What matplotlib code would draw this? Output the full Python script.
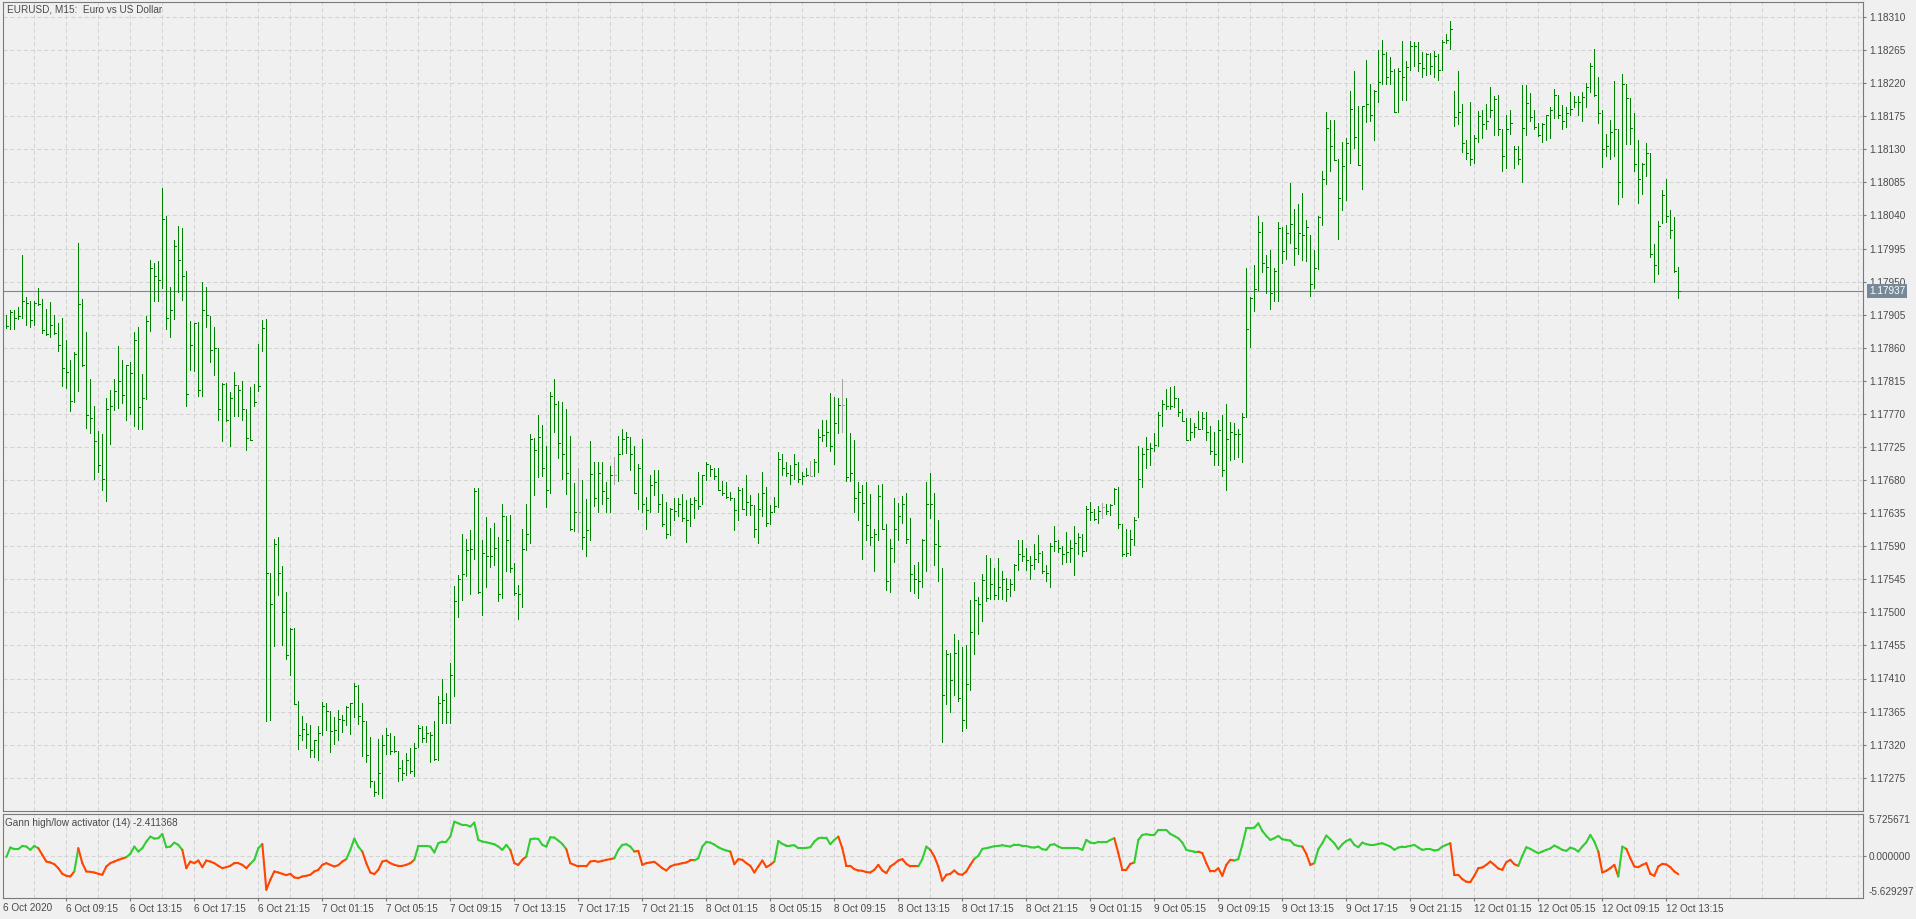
import numpy as np
import pandas as pd
import matplotlib
matplotlib.use("Agg")
import matplotlib.pyplot as plt
from matplotlib.collections import LineCollection


# =========================
# DATA  (EURUSD M15, bars)
# =========================
TITLE = "EURUSD, M15:  Euro vs US Dollar"
FIRST_BAR = "2020-10-06 05:30"
LAST_BAR = "2020-10-12 14:00"

HIGH = [
    1.17904, 1.17911, 1.17911, 1.17916, 1.17986, 1.17929, 1.17924, 1.17924, 1.17941, 1.17926, 1.17913, 1.17922, 1.17904, 1.17893, 1.17900, 1.17871, 1.17843, 1.17854, 1.18002, 1.17927,
    1.17882, 1.17817, 1.17781, 1.17747, 1.17743, 1.17792, 1.17803, 1.17817, 1.17862, 1.17843, 1.17837, 1.17841, 1.17882, 1.17888, 1.17824, 1.17903, 1.17980, 1.17975, 1.17978, 1.18077,
    1.18039, 1.17943, 1.18006, 1.18026, 1.18023, 1.17964, 1.17896, 1.17894, 1.17895, 1.17950, 1.17942, 1.17903, 1.17888, 1.17860, 1.17812, 1.17812, 1.17800, 1.17827, 1.17810, 1.17815,
    1.17777, 1.17807, 1.17811, 1.17865, 1.17898, 1.17899, 1.17553, 1.17600, 1.17602, 1.17563, 1.17528, 1.17479, 1.17479, 1.17380, 1.17359, 1.17349, 1.17347, 1.17327, 1.17346, 1.17378,
    1.17377, 1.17366, 1.17358, 1.17367, 1.17361, 1.17372, 1.17376, 1.17404, 1.17401, 1.17376, 1.17352, 1.17330, 1.17270, 1.17328, 1.17333, 1.17342, 1.17336, 1.17332, 1.17311, 1.17299,
    1.17308, 1.17316, 1.17322, 1.17347, 1.17346, 1.17346, 1.17337, 1.17352, 1.17386, 1.17410, 1.17390, 1.17431, 1.17536, 1.17551, 1.17606, 1.17600, 1.17612, 1.17669, 1.17669, 1.17599,
    1.17630, 1.17615, 1.17621, 1.17602, 1.17648, 1.17631, 1.17633, 1.17567, 1.17537, 1.17613, 1.17648, 1.17743, 1.17737, 1.17769, 1.17755, 1.17727, 1.17800, 1.17818, 1.17788, 1.17786,
    1.17777, 1.17740, 1.17676, 1.17696, 1.17680, 1.17654, 1.17733, 1.17704, 1.17705, 1.17705, 1.17677, 1.17699, 1.17711, 1.17740, 1.17750, 1.17746, 1.17739, 1.17726, 1.17702, 1.17736,
    1.17657, 1.17687, 1.17693, 1.17694, 1.17661, 1.17650, 1.17642, 1.17655, 1.17656, 1.17661, 1.17653, 1.17656, 1.17657, 1.17691, 1.17687, 1.17704, 1.17701, 1.17697, 1.17696, 1.17679,
    1.17677, 1.17664, 1.17656, 1.17670, 1.17669, 1.17687, 1.17659, 1.17646, 1.17662, 1.17691, 1.17671, 1.17646, 1.17657, 1.17718, 1.17716, 1.17705, 1.17700, 1.17715, 1.17705, 1.17691,
    1.17696, 1.17706, 1.17708, 1.17749, 1.17762, 1.17762, 1.17799, 1.17793, 1.17792, 1.17817, 1.17791, 1.17744, 1.17734, 1.17678, 1.17673, 1.17677, 1.17661, 1.17614, 1.17673, 1.17675,
    1.17620, 1.17600, 1.17655, 1.17649, 1.17658, 1.17663, 1.17629, 1.17565, 1.17569, 1.17600, 1.17677, 1.17689, 1.17663, 1.17625, 1.17561, 1.17449, 1.17445, 1.17471, 1.17462, 1.17453,
    1.17455, 1.17517, 1.17541, 1.17521, 1.17552, 1.17578, 1.17574, 1.17560, 1.17574, 1.17556, 1.17547, 1.17545, 1.17566, 1.17598, 1.17598, 1.17587, 1.17576, 1.17593, 1.17605, 1.17583,
    1.17565, 1.17594, 1.17618, 1.17599, 1.17590, 1.17610, 1.17598, 1.17618, 1.17608, 1.17607, 1.17645, 1.17650, 1.17640, 1.17645, 1.17649, 1.17647, 1.17647, 1.17669, 1.17671, 1.17620,
    1.17614, 1.17612, 1.17630, 1.17726, 1.17724, 1.17739, 1.17730, 1.17744, 1.17773, 1.17789, 1.17804, 1.17806, 1.17808, 1.17792, 1.17777, 1.17764, 1.17764, 1.17758, 1.17774, 1.17772,
    1.17773, 1.17754, 1.17745, 1.17762, 1.17768, 1.17783, 1.17759, 1.17757, 1.17750, 1.17771, 1.17968, 1.17929, 1.17972, 1.18039, 1.18031, 1.17986, 1.17993, 1.17969, 1.18031, 1.18024,
    1.18027, 1.18084, 1.18049, 1.18056, 1.18071, 1.18034, 1.18014, 1.17993, 1.18039, 1.18101, 1.18181, 1.18170, 1.18170, 1.18117, 1.18140, 1.18145, 1.18209, 1.18237, 1.18189, 1.18189,
    1.18251, 1.18219, 1.18211, 1.18265, 1.18279, 1.18262, 1.18256, 1.18239, 1.18241, 1.18277, 1.18250, 1.18278, 1.18276, 1.18276, 1.18263, 1.18261, 1.18261, 1.18264, 1.18260, 1.18279,
    1.18287, 1.18305, 1.18210, 1.18237, 1.18192, 1.18143, 1.18194, 1.18150, 1.18182, 1.18183, 1.18191, 1.18215, 1.18203, 1.18204, 1.18158, 1.18176, 1.18183, 1.18135, 1.18135, 1.18218,
    1.18218, 1.18207, 1.18183, 1.18166, 1.18166, 1.18177, 1.18188, 1.18212, 1.18204, 1.18190, 1.18188, 1.18208, 1.18203, 1.18203, 1.18208, 1.18220, 1.18248, 1.18266, 1.18228, 1.18184,
    1.18151, 1.18170, 1.18223, 1.18157, 1.18233, 1.18219, 1.18200, 1.18179, 1.18142, 1.18111, 1.18139, 1.18125, 1.18001, 1.18033, 1.18074, 1.18090, 1.18048, 1.18038, 1.17970,
]

LOW = [
    1.17887, 1.17885, 1.17885, 1.17899, 1.17901, 1.17891, 1.17888, 1.17891, 1.17918, 1.17880, 1.17878, 1.17874, 1.17879, 1.17856, 1.17808, 1.17805, 1.17774, 1.17786, 1.17801, 1.17835,
    1.17751, 1.17744, 1.17681, 1.17691, 1.17666, 1.17651, 1.17729, 1.17775, 1.17778, 1.17785, 1.17762, 1.17770, 1.17753, 1.17749, 1.17750, 1.17790, 1.17883, 1.17923, 1.17924, 1.17941,
    1.17885, 1.17874, 1.17899, 1.17936, 1.17925, 1.17781, 1.17830, 1.17828, 1.17795, 1.17795, 1.17888, 1.17840, 1.17823, 1.17762, 1.17733, 1.17760, 1.17727, 1.17767, 1.17767, 1.17762,
    1.17721, 1.17734, 1.17781, 1.17801, 1.17855, 1.17352, 1.17353, 1.17454, 1.17524, 1.17456, 1.17436, 1.17415, 1.17375, 1.17314, 1.17326, 1.17315, 1.17303, 1.17303, 1.17299, 1.17333,
    1.17340, 1.17310, 1.17321, 1.17326, 1.17337, 1.17347, 1.17335, 1.17358, 1.17348, 1.17305, 1.17297, 1.17262, 1.17250, 1.17253, 1.17247, 1.17307, 1.17307, 1.17310, 1.17271, 1.17272,
    1.17279, 1.17281, 1.17277, 1.17317, 1.17324, 1.17324, 1.17296, 1.17299, 1.17299, 1.17349, 1.17349, 1.17349, 1.17386, 1.17494, 1.17517, 1.17549, 1.17525, 1.17572, 1.17527, 1.17496,
    1.17535, 1.17562, 1.17564, 1.17516, 1.17519, 1.17556, 1.17555, 1.17524, 1.17491, 1.17507, 1.17585, 1.17594, 1.17659, 1.17684, 1.17686, 1.17644, 1.17662, 1.17745, 1.17710, 1.17681,
    1.17661, 1.17612, 1.17611, 1.17610, 1.17586, 1.17577, 1.17599, 1.17645, 1.17637, 1.17647, 1.17636, 1.17636, 1.17674, 1.17679, 1.17715, 1.17717, 1.17694, 1.17662, 1.17640, 1.17636,
    1.17613, 1.17637, 1.17660, 1.17637, 1.17618, 1.17601, 1.17605, 1.17626, 1.17631, 1.17624, 1.17596, 1.17617, 1.17628, 1.17640, 1.17647, 1.17680, 1.17685, 1.17681, 1.17666, 1.17660,
    1.17655, 1.17653, 1.17612, 1.17626, 1.17641, 1.17633, 1.17633, 1.17603, 1.17595, 1.17631, 1.17617, 1.17620, 1.17636, 1.17644, 1.17687, 1.17686, 1.17675, 1.17682, 1.17677, 1.17674,
    1.17686, 1.17685, 1.17685, 1.17691, 1.17733, 1.17727, 1.17720, 1.17702, 1.17744, 1.17746, 1.17679, 1.17679, 1.17636, 1.17625, 1.17572, 1.17599, 1.17591, 1.17556, 1.17599, 1.17614,
    1.17530, 1.17528, 1.17569, 1.17599, 1.17621, 1.17595, 1.17529, 1.17527, 1.17519, 1.17535, 1.17556, 1.17628, 1.17565, 1.17543, 1.17324, 1.17375, 1.17365, 1.17388, 1.17380, 1.17339,
    1.17342, 1.17395, 1.17443, 1.17470, 1.17488, 1.17516, 1.17518, 1.17518, 1.17518, 1.17518, 1.17516, 1.17522, 1.17531, 1.17557, 1.17570, 1.17557, 1.17546, 1.17559, 1.17568, 1.17554,
    1.17543, 1.17535, 1.17584, 1.17582, 1.17566, 1.17569, 1.17569, 1.17551, 1.17580, 1.17576, 1.17584, 1.17625, 1.17625, 1.17621, 1.17629, 1.17634, 1.17633, 1.17647, 1.17615, 1.17577,
    1.17576, 1.17578, 1.17592, 1.17630, 1.17671, 1.17696, 1.17700, 1.17719, 1.17727, 1.17754, 1.17776, 1.17776, 1.17780, 1.17767, 1.17760, 1.17734, 1.17734, 1.17738, 1.17749, 1.17749,
    1.17734, 1.17715, 1.17700, 1.17700, 1.17685, 1.17666, 1.17707, 1.17708, 1.17711, 1.17705, 1.17766, 1.17861, 1.17910, 1.17939, 1.17963, 1.17934, 1.17913, 1.17924, 1.17923, 1.17975,
    1.17981, 1.18003, 1.17972, 1.17988, 1.17979, 1.17978, 1.17931, 1.17941, 1.17967, 1.18027, 1.18083, 1.18101, 1.18115, 1.18008, 1.18047, 1.18061, 1.18111, 1.18132, 1.18109, 1.18076,
    1.18167, 1.18168, 1.18142, 1.18195, 1.18219, 1.18219, 1.18219, 1.18181, 1.18181, 1.18197, 1.18197, 1.18238, 1.18244, 1.18236, 1.18229, 1.18231, 1.18233, 1.18228, 1.18224, 1.18238,
    1.18274, 1.18267, 1.18162, 1.18165, 1.18127, 1.18117, 1.18108, 1.18112, 1.18140, 1.18146, 1.18158, 1.18174, 1.18149, 1.18150, 1.18101, 1.18104, 1.18151, 1.18105, 1.18110, 1.18085,
    1.18150, 1.18169, 1.18157, 1.18148, 1.18140, 1.18142, 1.18146, 1.18173, 1.18173, 1.18158, 1.18161, 1.18177, 1.18188, 1.18177, 1.18169, 1.18188, 1.18208, 1.18202, 1.18166, 1.18106,
    1.18121, 1.18117, 1.18121, 1.18056, 1.18065, 1.18137, 1.18137, 1.18101, 1.18057, 1.18069, 1.18094, 1.17984, 1.17950, 1.17960, 1.18030, 1.18031, 1.18009, 1.17963, 1.17928,
]

CLOSE = [
    1.17889, 1.17909, 1.17901, 1.17903, 1.17924, 1.17921, 1.17898, 1.17921, 1.17920, 1.17884, 1.17879, 1.17891, 1.17880, 1.17864, 1.17833, 1.17827, 1.17787, 1.17852, 1.17920, 1.17836,
    1.17769, 1.17765, 1.17733, 1.17700, 1.17681, 1.17777, 1.17781, 1.17801, 1.17815, 1.17796, 1.17836, 1.17826, 1.17870, 1.17780, 1.17792, 1.17897, 1.17969, 1.17958, 1.17952, 1.18035,
    1.17901, 1.17912, 1.17999, 1.17980, 1.17957, 1.17797, 1.17864, 1.17894, 1.17803, 1.17912, 1.17904, 1.17857, 1.17860, 1.17777, 1.17811, 1.17762, 1.17791, 1.17810, 1.17803, 1.17776,
    1.17737, 1.17735, 1.17786, 1.17808, 1.17887, 1.17553, 1.17512, 1.17593, 1.17553, 1.17500, 1.17442, 1.17478, 1.17375, 1.17333, 1.17341, 1.17334, 1.17313, 1.17327, 1.17336, 1.17372,
    1.17366, 1.17338, 1.17340, 1.17355, 1.17353, 1.17371, 1.17376, 1.17400, 1.17359, 1.17352, 1.17306, 1.17270, 1.17255, 1.17282, 1.17320, 1.17333, 1.17311, 1.17311, 1.17288, 1.17282,
    1.17299, 1.17284, 1.17315, 1.17343, 1.17329, 1.17336, 1.17333, 1.17300, 1.17377, 1.17381, 1.17364, 1.17415, 1.17516, 1.17545, 1.17552, 1.17585, 1.17586, 1.17665, 1.17528, 1.17581,
    1.17576, 1.17577, 1.17587, 1.17525, 1.17631, 1.17599, 1.17561, 1.17527, 1.17525, 1.17586, 1.17606, 1.17736, 1.17721, 1.17738, 1.17696, 1.17666, 1.17795, 1.17783, 1.17730, 1.17716,
    1.17690, 1.17614, 1.17637, 1.17637, 1.17603, 1.17612, 1.17688, 1.17655, 1.17690, 1.17665, 1.17656, 1.17687, 1.17687, 1.17716, 1.17736, 1.17739, 1.17716, 1.17663, 1.17696, 1.17648,
    1.17639, 1.17673, 1.17678, 1.17648, 1.17620, 1.17606, 1.17641, 1.17638, 1.17648, 1.17629, 1.17625, 1.17647, 1.17653, 1.17645, 1.17687, 1.17702, 1.17695, 1.17685, 1.17666, 1.17663,
    1.17657, 1.17656, 1.17639, 1.17666, 1.17641, 1.17650, 1.17646, 1.17614, 1.17640, 1.17663, 1.17621, 1.17636, 1.17645, 1.17708, 1.17697, 1.17690, 1.17687, 1.17702, 1.17682, 1.17686,
    1.17687, 1.17685, 1.17705, 1.17738, 1.17741, 1.17746, 1.17726, 1.17758, 1.17782, 1.17782, 1.17684, 1.17690, 1.17656, 1.17664, 1.17649, 1.17619, 1.17603, 1.17606, 1.17658, 1.17614,
    1.17543, 1.17587, 1.17614, 1.17631, 1.17647, 1.17600, 1.17552, 1.17546, 1.17543, 1.17599, 1.17648, 1.17647, 1.17593, 1.17590, 1.17387, 1.17443, 1.17408, 1.17445, 1.17384, 1.17353,
    1.17402, 1.17473, 1.17517, 1.17511, 1.17544, 1.17519, 1.17538, 1.17523, 1.17535, 1.17546, 1.17532, 1.17539, 1.17564, 1.17580, 1.17577, 1.17571, 1.17565, 1.17573, 1.17581, 1.17556,
    1.17553, 1.17590, 1.17597, 1.17588, 1.17580, 1.17582, 1.17588, 1.17595, 1.17603, 1.17584, 1.17641, 1.17636, 1.17627, 1.17638, 1.17644, 1.17638, 1.17646, 1.17668, 1.17620, 1.17579,
    1.17581, 1.17600, 1.17625, 1.17681, 1.17715, 1.17722, 1.17724, 1.17728, 1.17769, 1.17783, 1.17781, 1.17781, 1.17792, 1.17772, 1.17760, 1.17734, 1.17745, 1.17752, 1.17749, 1.17764,
    1.17745, 1.17719, 1.17715, 1.17748, 1.17694, 1.17736, 1.17745, 1.17742, 1.17742, 1.17766, 1.17886, 1.17928, 1.17940, 1.18018, 1.17975, 1.17970, 1.17935, 1.17965, 1.18023, 1.17992,
    1.18016, 1.18028, 1.17996, 1.18016, 1.18014, 1.18024, 1.17947, 1.17968, 1.18038, 1.18089, 1.18159, 1.18135, 1.18115, 1.18064, 1.18107, 1.18138, 1.18185, 1.18147, 1.18108, 1.18189,
    1.18192, 1.18177, 1.18210, 1.18222, 1.18259, 1.18229, 1.18236, 1.18181, 1.18236, 1.18229, 1.18242, 1.18270, 1.18270, 1.18248, 1.18241, 1.18260, 1.18244, 1.18257, 1.18238, 1.18276,
    1.18279, 1.18294, 1.18174, 1.18181, 1.18139, 1.18125, 1.18117, 1.18145, 1.18175, 1.18164, 1.18169, 1.18184, 1.18198, 1.18158, 1.18121, 1.18157, 1.18166, 1.18130, 1.18117, 1.18159,
    1.18193, 1.18174, 1.18160, 1.18149, 1.18164, 1.18176, 1.18183, 1.18204, 1.18177, 1.18168, 1.18179, 1.18185, 1.18194, 1.18195, 1.18201, 1.18215, 1.18244, 1.18204, 1.18179, 1.18130,
    1.18134, 1.18154, 1.18157, 1.18085, 1.18219, 1.18200, 1.18159, 1.18110, 1.18090, 1.18110, 1.18125, 1.17987, 1.17972, 1.18025, 1.18068, 1.18039, 1.18020, 1.17964, 1.17937,
]

# bars drawn in the doji (line) colour
DOJI_BARS = [143, 152, 201, 209, 274]
LAST_PRICE = 1.17937

PRICE_LEVELS = [
    1.17275, 1.17320, 1.17365, 1.17410, 1.17455, 1.17500, 1.17545, 1.17590,
    1.17635, 1.17680, 1.17725, 1.17770, 1.17815, 1.17860, 1.17905, 1.17950,
    1.17995, 1.18040, 1.18085, 1.18130, 1.18175, 1.18220, 1.18265, 1.18310,
]

GANN_LABEL = "Gann high/low activator (14) -2.411368"
GANN_MAX = 5.725671
GANN_MIN = -5.629297
GANN = [
    -0.10, 1.20, 0.97, 0.97, 1.41, 1.32, 0.88, 1.41, 1.10, 0.20, -0.70, -0.83, -1.06, -1.60, -2.36, -2.63, -2.72, -2.04, 1.10, -0.92,
    -2.04, -2.09, -2.18, -2.36, -2.49, -1.37, -0.92, -0.70, -0.47, -0.29, -0.11, 0.34, 1.32, 0.65, 1.10, 1.99, 2.67, 2.40, 2.45, 3.03,
    1.23, 1.32, 1.86, 1.55, 0.88, -1.60, -0.70, -0.92, -0.56, -1.46, -0.56, -0.70, -0.92, -1.28, -1.60, -1.46, -1.28, -0.92, -0.92, -1.15,
    -1.60, -1.01, -0.47, 1.10, 1.66, -4.51, -3.17, -2.04, -2.18, -2.36, -2.54, -2.36, -2.85, -2.94, -2.72, -2.63, -2.49, -2.04, -1.82, -1.15,
    -0.92, -1.15, -1.37, -1.19, -0.70, -0.38, 0.88, 2.40, 1.32, 0.65, -0.92, -2.18, -2.40, -1.82, -0.70, -0.56, -0.92, -1.15, -1.28, -1.28,
    -1.15, -0.92, -0.47, 1.41, 1.41, 1.41, 1.32, 0.52, 1.77, 2.00, 2.00, 2.67, 4.69, 4.47, 4.24, 4.24, 4.02, 4.56, 2.22, 2.00,
    1.90, 1.77, 1.64, 1.32, 0.88, 1.55, 0.88, -0.92, -1.15, -0.47, -0.02, 2.31, 2.40, 2.36, 1.55, 1.32, 2.58, 2.54, 2.13, 1.68,
    0.97, -0.92, -1.15, -1.37, -1.37, -1.37, -0.70, -0.61, -0.74, -0.61, -0.47, -0.38, -0.25, 0.88, 1.55, 1.64, 1.32, 0.65, 0.74, -1.15,
    -0.92, -0.83, -0.74, -1.15, -1.60, -1.91, -1.37, -1.15, -1.06, -0.92, -0.83, -0.56, -0.56, -0.25, 1.32, 1.95, 1.86, 1.59, 1.23, 0.97,
    0.79, 0.65, -1.06, -0.38, -0.47, -0.92, -1.28, -2.18, -1.37, -0.56, -1.46, -1.15, -0.70, 2.09, 1.68, 1.46, 1.46, 1.50, 1.10, 1.10,
    1.15, 1.23, 2.00, 2.45, 2.54, 2.54, 1.64, 2.22, 2.67, 1.10, -1.28, -1.28, -1.73, -1.91, -1.95, -2.13, -2.18, -1.82, -1.15, -1.91,
    -2.27, -1.37, -1.01, -0.56, -0.38, -1.01, -1.37, -1.37, -1.37, -0.38, 1.32, 0.88, -0.02, -1.37, -3.30, -2.49, -2.36, -1.91, -2.40, -2.49,
    -2.04, -1.15, -0.34, 0.07, 1.01, 1.10, 1.23, 1.37, 1.41, 1.50, 1.41, 1.32, 1.59, 1.59, 1.41, 1.41, 1.23, 1.19, 1.32, 0.97,
    0.88, 1.55, 1.64, 1.32, 1.10, 1.10, 1.10, 1.10, 1.10, 0.88, 2.22, 1.86, 1.77, 1.95, 1.90, 1.90, 2.22, 2.45, 0.43, -1.82,
    -1.82, -1.01, -0.83, 2.22, 2.90, 2.99, 2.90, 2.90, 3.57, 3.57, 3.57, 3.03, 2.76, 2.45, 1.86, 0.88, 0.74, 0.65, 0.65, 0.43,
    -0.92, -2.04, -2.04, -1.60, -2.63, -1.15, -0.47, -0.56, -0.38, 1.55, 3.79, 3.79, 3.88, 4.47, 3.44, 2.76, 2.22, 2.45, 2.76, 2.31,
    2.22, 2.13, 1.55, 1.41, 1.32, 0.34, -1.15, -0.92, 0.97, 1.77, 2.81, 2.31, 1.77, 0.97, 1.64, 2.09, 2.31, 1.55, 1.23, 1.86,
    1.64, 1.55, 1.55, 1.68, 1.77, 1.55, 1.32, 0.88, 1.19, 1.32, 1.32, 1.41, 1.55, 1.19, 0.88, 0.97, 0.97, 0.79, 0.88, 1.32,
    1.55, 1.77, -2.49, -2.49, -3.08, -3.43, -3.48, -2.63, -1.60, -1.50, -1.15, -0.70, -1.15, -1.64, -1.82, -0.79, -0.47, -1.06, -1.28, 0.07,
    1.23, 1.01, 0.70, 0.43, 0.65, 0.88, 1.06, 1.46, 1.19, 0.88, 0.74, 1.19, 1.01, 0.65, 1.32, 1.90, 2.90, 2.00, 0.65, -2.18,
    -1.95, -1.60, -1.15, -2.72, 1.32, 1.01, -0.25, -1.37, -1.46, -1.15, -0.92, -2.36, -2.63, -1.37, -1.01, -1.10, -1.46, -2.04, -2.411368,
]
# runs of bars (first, last) where the activator line is drawn green
GANN_UP_RUNS = [
    (1, 8), (18, 18), (31, 44), (62, 64), (86, 89), (103, 126), (131, 140),
    (153, 157), (173, 181), (193, 208), (229, 231), (243, 277), (283, 298),
    (308, 324), (328, 361), (379, 398), (404, 405),
]


# =========================
# STYLE
# =========================
BG = "#f0f0f0"
GRID = "#d4d4d4"
FRAME = "#7a7a7a"
TXT = "#4a4a4a"
BAR_GREEN = "#008000"
BAR_DOJI = "#a6a6a6"
TAG = "#778899"
GANN_GREEN = "#32cd32"
GANN_RED = "#ff4500"
FS = 7.2
DASH = (0, (4, 2.5))
ONE_PX = 0.72  # points

plt.rcParams["font.family"] = ["Liberation Sans", "DejaVu Sans"]

W, H = 1916, 919
PX_PER_BAR = 4.0


def px_box(left, top, right, bottom):
    return [left / W, 1 - bottom / H, (right - left) / W, (bottom - top) / H]


fig = plt.figure(figsize=(W / 100, H / 100), dpi=100, facecolor=BG)
ax = fig.add_axes(px_box(3, 2, 1863, 811))
ax2 = fig.add_axes(px_box(3, 814, 1863, 898))

n = min(len(HIGH), len(LOW), len(CLOSE), len(GANN))
x = np.arange(n)
high = np.array(HIGH[:n])
low = np.array(LOW[:n])
close = np.array(CLOSE[:n])
gann = np.array(GANN[:n])

# time axis (weekend skipped, like the terminal does)
times = pd.date_range(FIRST_BAR, LAST_BAR, freq="15min")
times = times[times.dayofweek < 5][:n]
future = pd.date_range(LAST_BAR, periods=80, freq="15min")[1:]
all_times = times.append(future)
all_pos = np.arange(len(all_times))
grid_pos = all_pos[(all_times.minute == 15) & (all_times.hour % 2 == 1)]
lab_mask = (times.minute == 15) & (times.hour % 4 == 1)
lab_pos = np.arange(len(times))[lab_mask]
lab_txt = [f"{t.day} {t:%b %H:%M}" for t in times[lab_mask]]

x_left = -0.83
x_right = x_left + 1860 / PX_PER_BAR

for a in (ax, ax2):
    a.set_facecolor(BG)
    a.set_xlim(x_left, x_right)
    for s in a.spines.values():
        s.set_color(FRAME)
        s.set_linewidth(0.8)
    for gx in grid_pos:
        a.axvline(gx, color=GRID, lw=0.75, ls=DASH, zorder=0)

# =========================
# MAIN PANEL (OHLC bars)
# =========================
ax.set_ylim(1.18310 - 794 / 73500, 1.18310 + 15 / 73500)
for lv in PRICE_LEVELS:
    ax.axhline(lv, color=GRID, lw=0.75, ls=DASH, zorder=0)

bar_cols = [BAR_DOJI if i in DOJI_BARS else BAR_GREEN for i in range(n)]
ax.vlines(x, low, high, colors=bar_cols, linewidth=ONE_PX, antialiased=False, zorder=3)
ax.hlines(close, x, x + 0.4, colors=bar_cols, linewidth=ONE_PX, antialiased=False, zorder=3)

ax.axhline(LAST_PRICE, color=TAG, lw=0.8, zorder=2)
ax.annotate(f"{LAST_PRICE:.5f}", xy=(1, LAST_PRICE), xycoords=("axes fraction", "data"),
            xytext=(6, 0), textcoords="offset pixels", ha="left", va="center",
            fontsize=FS, color="white", annotation_clip=False,
            bbox=dict(boxstyle="square,pad=0.18", fc=TAG, ec="none"))

ax.set_xticks([])
ax.yaxis.tick_right()
ax.set_yticks(PRICE_LEVELS)
ax.set_yticklabels([f"{v:.5f}" for v in PRICE_LEVELS])
ax.tick_params(axis="y", direction="out", length=2.2, width=0.8, color=FRAME,
               pad=2, labelsize=FS, labelcolor=TXT)

ax.text(4 / 1860, 1 - 7 / 809, TITLE, transform=ax.transAxes, ha="left", va="center",
        fontsize=FS, color=TXT)

# =========================
# INDICATOR PANEL
# =========================
ax2.set_ylim(GANN_MIN, GANN_MAX)
ax2.axhline(0, color=GRID, lw=0.75, ls=DASH, zorder=0)

up = np.zeros(n, dtype=bool)
for a_, b_ in GANN_UP_RUNS:
    up[a_:b_ + 1] = True
pts = np.column_stack([x, gann])
segs = np.stack([pts[:-1], pts[1:]], axis=1)
seg_cols = np.where(up[1:], GANN_GREEN, GANN_RED)
ax2.add_collection(LineCollection(segs, colors=seg_cols, linewidths=1.5,
                                  capstyle="round", zorder=3))

ax2.yaxis.tick_right()
ax2.set_yticks([0])
ax2.set_yticklabels(["0.000000"])
ax2.tick_params(axis="y", direction="out", length=2.2, width=0.8, color=FRAME,
                pad=2, labelsize=FS, labelcolor=TXT)
ax2.text(1 + 6 / 1860, 1 - 1 / 84, f"{GANN_MAX:.6f}", transform=ax2.transAxes,
         ha="left", va="top", fontsize=FS, color=TXT)
ax2.text(1 + 6 / 1860, 1 / 84, f"{GANN_MIN:.6f}", transform=ax2.transAxes,
         ha="left", va="bottom", fontsize=FS, color=TXT)

ax2.set_xticks(lab_pos)
ax2.set_xticklabels(lab_txt)
for lbl in ax2.get_xticklabels():
    lbl.set_ha("left")
ax2.tick_params(axis="x", direction="out", length=2, width=0.8, color=FRAME,
                pad=2, labelsize=FS, labelcolor=TXT)
ax2.text(0.0, -10 / 84, f"{times[0].day} {times[0]:%b %Y}", transform=ax2.transAxes,
         ha="left", va="center", fontsize=FS, color=TXT)

ax2.text(2 / 1860, 1 - 9 / 84, GANN_LABEL, transform=ax2.transAxes, ha="left",
         va="center", fontsize=FS, color=TXT)

fig.savefig("out.png", dpi=100, facecolor=BG)
